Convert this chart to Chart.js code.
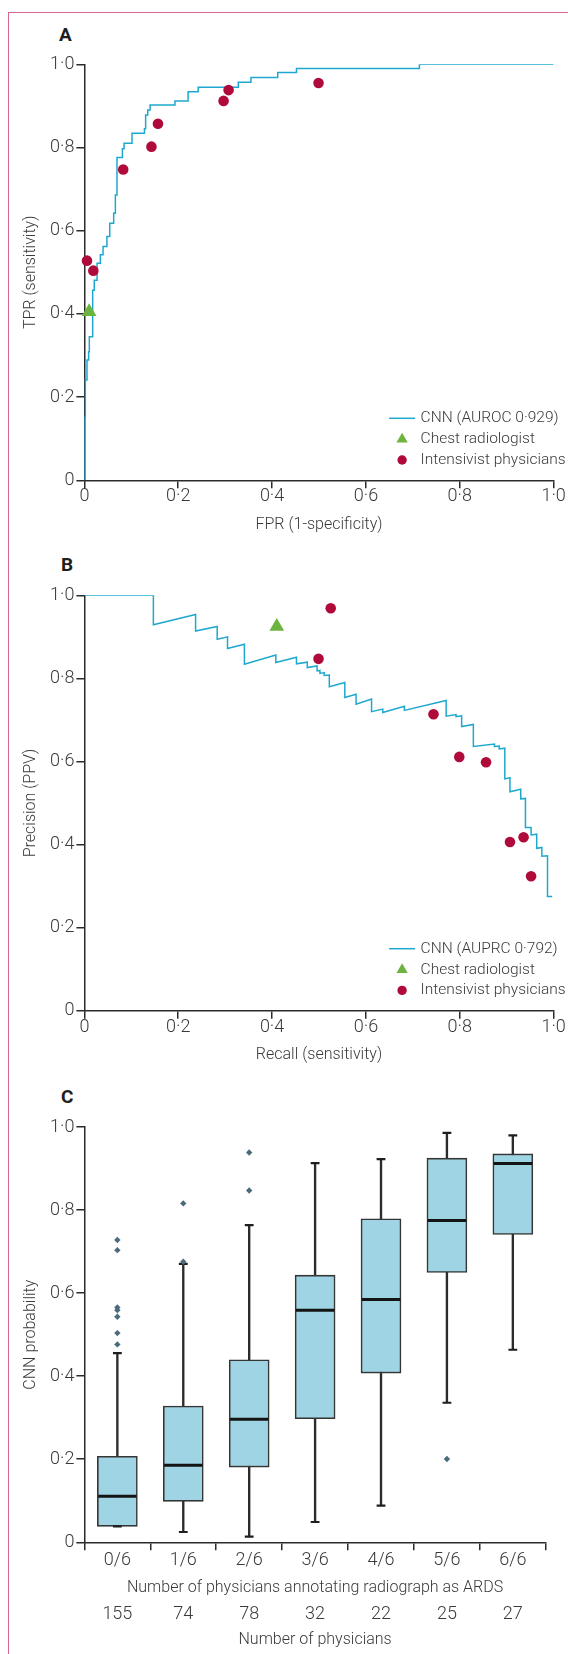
<!DOCTYPE html>
<html>
<head>
<meta charset="utf-8">
<script src="https://cdn.jsdelivr.net/npm/chart.js"></script>
<style>
  html, body { margin: 0; padding: 0; background: #fff; }
  #page { position: relative; width: 568px; height: 1654px; overflow: hidden; font-family: Roboto, sans-serif; }
  .frame { position: absolute; left: 8px; top: 12px; width: 600px; height: 1700px;
           border-left: 1.5px solid #d6698a; border-top: 1.5px solid #d6698a; }
  .panel { position: absolute; left: 0; }
  .tag { position: absolute; font-weight: 700; font-size: 19px; line-height: 22px; color: #1e1e1e; }
</style>
</head>
<body>
<div id="page">
  <div class="frame"></div>
  <div class="tag" style="left:59px; top:24px">A</div>
  <div class="tag" style="left:61px; top:554px">B</div>
  <div class="tag" style="left:61px; top:1086px">C</div>
  <canvas id="rocChart" class="panel" width="568" height="515" style="top:40px"></canvas>
  <canvas id="prChart" class="panel" width="568" height="515" style="top:570px"></canvas>
  <canvas id="boxChart" class="panel" width="568" height="559" style="top:1095px"></canvas>
</div>
<script>
// A: ROC curve of the CNN (step corners) and reader operating points
const rocFpr = [0, 0, 0.002, 0.0055, 0.009, 0.0105, 0.0176, 0.021, 0.027, 0.034, 0.0397, 0.048, 0.054, 0.0624, 0.066, 0.0695, 0.081, 0.0845, 0.1015, 0.128, 0.1305, 0.135, 0.140, 0.193, 0.221, 0.2425, 0.328, 0.355, 0.412, 0.452, 0.714, 1.0];
const rocTpr = [0, 0.153, 0.241, 0.289, 0.309, 0.345, 0.457, 0.481, 0.522, 0.542, 0.562, 0.586, 0.618, 0.642, 0.686, 0.776, 0.797, 0.810, 0.834, 0.845, 0.878, 0.890, 0.902, 0.912, 0.934, 0.945, 0.957, 0.968, 0.980, 0.990, 1.0, 1.0];
const physFpr = [0.0055, 0.019, 0.0827, 0.1429, 0.1568, 0.2966, 0.3073, 0.499];
const physTpr = [0.528, 0.504, 0.747, 0.802, 0.857, 0.912, 0.938, 0.955];
const radioFpr = [0.01];
const radioTpr = [0.405];

// B: precision-recall curve of the CNN and reader operating points
const prRecall = [0, 0.147, 0.147, 0.237, 0.237, 0.283, 0.283, 0.305, 0.305, 0.341, 0.341, 0.408, 0.408, 0.452, 0.452, 0.475, 0.475, 0.496, 0.496, 0.502, 0.502, 0.511, 0.511, 0.522, 0.522, 0.555, 0.555, 0.579, 0.579, 0.612, 0.612, 0.636, 0.636, 0.682, 0.682, 0.771, 0.771, 0.792, 0.792, 0.804, 0.804, 0.829, 0.829, 0.874, 0.874, 0.884, 0.884, 0.896, 0.896, 0.907, 0.907, 0.930, 0.930, 0.940, 0.940, 0.952, 0.952, 0.964, 0.964, 0.975, 0.975, 0.987, 0.987, 0.997];
const prPrecision = [1.0, 1.0, 0.929, 0.954, 0.914, 0.925, 0.894, 0.900, 0.872, 0.882, 0.834, 0.856, 0.838, 0.851, 0.835, 0.839, 0.826, 0.830, 0.818, 0.819, 0.812, 0.814, 0.807, 0.808, 0.780, 0.790, 0.754, 0.762, 0.738, 0.750, 0.720, 0.726, 0.718, 0.733, 0.723, 0.747, 0.709, 0.713, 0.708, 0.710, 0.684, 0.689, 0.636, 0.642, 0.636, 0.637, 0.630, 0.632, 0.558, 0.561, 0.527, 0.533, 0.510, 0.511, 0.441, 0.441, 0.423, 0.425, 0.391, 0.393, 0.372, 0.373, 0.275, 0.275];
const physRecall = [0.499, 0.525, 0.744, 0.799, 0.856, 0.907, 0.936, 0.952];
const physPrecision = [0.847, 0.969, 0.7135, 0.611, 0.598, 0.406, 0.4175, 0.3235];
const radioRecall = [0.41];
const radioPrecision = [0.925];

// C: CNN probability by number of physicians annotating ARDS
const annotCats = ['0/6', '1/6', '2/6', '3/6', '4/6', '5/6', '6/6'];
const physCounts = ['155', '74', '78', '32', '22', '25', '27'];
const whiskerLow = [0.0385, 0.0248, 0.0135, 0.0489, 0.0882, 0.336, 0.4636];
const boxQ1 = [0.0385, 0.0987, 0.181, 0.2975, 0.4075, 0.6498, 0.7413];
const boxMedian = [0.1107, 0.1853, 0.296, 0.559, 0.5848, 0.775, 0.912];
const boxQ3 = [0.207, 0.328, 0.4395, 0.6433, 0.779, 0.925, 0.9353];
const whiskerHigh = [0.4556, 0.6706, 0.7637, 0.9129, 0.9225, 0.9858, 0.980];
const outlierCat = ['0/6', '0/6', '0/6', '0/6', '0/6', '0/6', '0/6', '1/6', '1/6', '2/6', '2/6', '5/6'];
const outlierVal = [0.728, 0.7035, 0.5656, 0.559, 0.543, 0.5037, 0.4765, 0.816, 0.6754, 0.9386, 0.847, 0.2005];

const AXIS = '#2b2b2b';
const TEXT = '#3a3a3a';
const CYAN = '#1fa8cf';
const RED = '#b00a3b';
const GREEN = '#6cb33f';
const TICK_SIZE = 18;

Chart.defaults.font.family = 'Roboto';
Chart.defaults.font.weight = '300';
Chart.defaults.color = TEXT;

const fmt = v => v === 0 ? '0' : Number(v).toFixed(1).replace('.', '·');
const pts = (xs, ys) => xs.map((x, i) => ({x: x, y: ys[i]}));

const cornerLegend = {
  id: 'cornerLegend',
  afterDatasetsDraw(chart, args, opts) {
    const {ctx, chartArea} = chart;
    ctx.save();
    ctx.font = '300 15.5px Roboto';
    ctx.textBaseline = 'middle';
    ctx.textAlign = 'left';
    opts.items.forEach((item, i) => {
      const y = chartArea.bottom - [62, 41, 20.3][i];
      const mx = chartArea.right - 151.5;
      if (item.style === 'line') {
        ctx.strokeStyle = item.color;
        ctx.lineWidth = 1.5;
        ctx.beginPath();
        ctx.moveTo(mx - 13, y);
        ctx.lineTo(mx + 13, y);
        ctx.stroke();
      } else {
        ctx.fillStyle = item.color;
        Chart.helpers.drawPoint(ctx, {pointStyle: item.style, radius: item.radius, rotation: 0, borderWidth: 0}, mx, y);
      }
      ctx.fillStyle = TEXT;
      ctx.fillText(item.text, chartArea.right - 133, y);
    });
    ctx.restore();
  }
};

function gridOpts() {
  return { display: true, drawOnChartArea: false, drawTicks: true, tickLength: 8, lineWidth: 1.5, color: AXIS };
}

function yAxis(title) {
  return {
    type: 'linear', min: 0, max: 1,
    border: { display: true, color: AXIS, width: 1.5 },
    grid: gridOpts(),
    ticks: { stepSize: 0.2, padding: 2, font: { size: TICK_SIZE }, callback: fmt },
    title: { display: true, text: title, font: { size: 16 }, padding: { top: 21.4, bottom: 0 } },
    afterFit: s => { s.width = 84.4; }
  };
}

function xLinear(title, height) {
  return {
    type: 'linear', min: 0, max: 1,
    border: { display: true, color: AXIS, width: 1.5 },
    grid: gridOpts(),
    ticks: { stepSize: 0.2, padding: -2.4, maxRotation: 0, font: { size: TICK_SIZE }, callback: fmt },
    title: { display: true, text: title, font: { size: 16 }, padding: { top: 0, bottom: 20.4 } },
    afterFit: s => { s.height = height; }
  };
}

function curveChart(id, curve, phys, radio, title, xTitle, yTitle, topPad, xHeight) {
  return new Chart(document.getElementById(id), {
    type: 'scatter',
    data: {
      datasets: [
        { label: title, data: curve.data, showLine: true, stepped: curve.stepped, borderColor: CYAN,
          borderWidth: 1.5, pointRadius: 0, order: 3 },
        { label: 'Chest radiologist', data: radio, pointStyle: 'triangle', pointRadius: 8.5,
          backgroundColor: GREEN, borderWidth: 0, clip: false, order: 2 },
        { label: 'Intensivist physicians', data: phys, pointStyle: 'circle', pointRadius: 5.3,
          backgroundColor: RED, borderWidth: 0, clip: false, order: 1 }
      ]
    },
    options: {
      responsive: false, maintainAspectRatio: false, animation: false, devicePixelRatio: 1, events: [],
      layout: { padding: { top: topPad, left: 0, right: 14.4, bottom: 0 } },
      plugins: {
        legend: { display: false }, tooltip: { enabled: false },
        cornerLegend: { items: [
          { style: 'line', color: CYAN, text: title },
          { style: 'triangle', color: GREEN, radius: 6.5, text: 'Chest radiologist' },
          { style: 'circle', color: RED, radius: 4.7, text: 'Intensivist physicians' }
        ] }
      },
      scales: { x: xLinear(xTitle, xHeight), y: yAxis(yTitle) }
    },
    plugins: [cornerLegend]
  });
}

curveChart('rocChart', { data: pts(rocFpr, rocTpr), stepped: 'before' },
  pts(physFpr, physTpr), pts(radioFpr, radioTpr),
  'CNN (AUROC 0·929)', 'FPR (1-specificity)', 'TPR (sensitivity)', 24.3, 74.7);

curveChart('prChart', { data: pts(prRecall, prPrecision), stepped: false },
  pts(physRecall, physPrecision), pts(radioRecall, radioPrecision),
  'CNN (AUPRC 0·792)', 'Recall (sensitivity)', 'Precision (PPV)', 25.3, 74.3);

new Chart(document.getElementById('boxChart'), {
  type: 'bar',
  data: {
    labels: annotCats,
    datasets: [
      { type: 'bar', data: whiskerLow.map((v, i) => [v, whiskerHigh[i]]), backgroundColor: AXIS,
        barThickness: 1.7, grouped: false, order: 6 },
      { type: 'bar', data: boxQ1.map((v, i) => [v, boxQ3[i]]), backgroundColor: '#9fd4e4',
        borderColor: '#353535', borderWidth: 1.6, borderSkipped: false, barThickness: 40, grouped: false, order: 5 },
      { type: 'line', data: boxMedian, showLine: false, pointStyle: 'line', pointRadius: 19.2,
        pointBorderWidth: 3, pointBorderColor: '#141414', order: 4 },
      { type: 'line', data: whiskerHigh, showLine: false, pointStyle: 'line', pointRadius: 4.4,
        pointBorderWidth: 2.2, pointBorderColor: '#1e1e1e', order: 3 },
      { type: 'line', data: whiskerLow, showLine: false, pointStyle: 'line', pointRadius: 4.4,
        pointBorderWidth: 2.2, pointBorderColor: '#1e1e1e', order: 3 },
      { type: 'line', data: outlierCat.map((c, i) => ({x: c, y: outlierVal[i]})), showLine: false,
        pointStyle: 'rectRot', pointRadius: 3.2, backgroundColor: '#4a6c7a', borderWidth: 0, order: 1 }
    ]
  },
  options: {
    responsive: false, maintainAspectRatio: false, animation: false, devicePixelRatio: 1, events: [],
    layout: { padding: { top: 32, left: 0, right: 14.4, bottom: 0 } },
    plugins: { legend: { display: false }, tooltip: { enabled: false } },
    scales: {
      x: {
        type: 'category', offset: true, weight: 0,
        border: { display: true, color: AXIS, width: 1.5 },
        grid: Object.assign(gridOpts(), { offset: true }),
        ticks: { padding: -1.1, maxRotation: 0, font: { size: TICK_SIZE } },
        title: { display: true, text: 'Number of physicians annotating radiograph as ARDS', font: { size: 16 },
                 padding: { top: 0, bottom: 0.7 } },
        afterFit: s => { s.height = 56; }
      },
      x2: {
        type: 'category', position: 'bottom', offset: true, weight: 1, labels: physCounts,
        border: { display: false },
        grid: { display: false, drawTicks: false },
        ticks: { padding: 4.9, maxRotation: 0, font: { size: TICK_SIZE } },
        title: { display: true, text: 'Number of physicians', font: { size: 16 }, padding: { top: 0, bottom: 4.4 } },
        afterFit: s => { s.height = 55.7; }
      },
      y: yAxis('CNN probability')
    }
  }
});
</script>
</body>
</html>
